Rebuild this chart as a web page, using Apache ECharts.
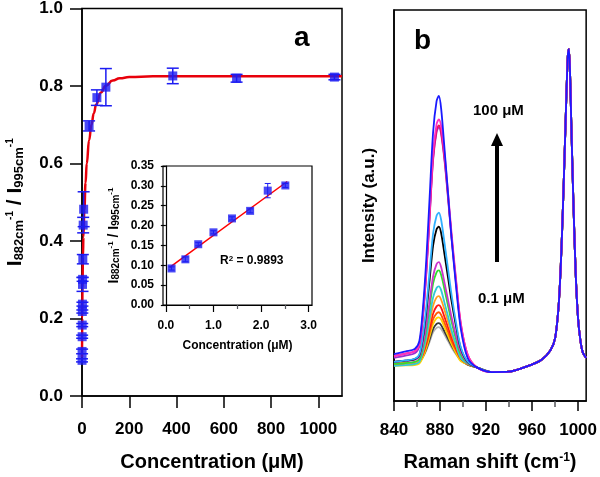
<!DOCTYPE html>
<html><head><meta charset="utf-8">
<script src="https://cdn.jsdelivr.net/npm/echarts@6/dist/echarts.min.js"></script>
<style>html,body{margin:0;padding:0;background:#fff}#c{width:600px;height:477px}</style>
</head><body><div id="c"></div>
<script>
const FONT = 'Liberation Sans, Arial, sans-serif';
const BLUE = '#1c1cf2';
const RED = '#e8000b';

// ---- Panel a : inset (low concentration, µM) ----
const insetX = [0.12, 0.41, 0.68, 1.0, 1.39, 1.77, 2.14, 2.51];
const insetY = [0.092, 0.115, 0.153, 0.183, 0.218, 0.237, 0.288, 0.301];
const insetErr = [0.004, 0.006, 0.004, 0.004, 0.004, 0.005, 0.018, 0.005];
const insetFitX = [0.08, 2.55];
const insetFitY = [0.095, 0.311];
const insetXTicks = [0, 1, 2, 3];
const insetXMinor = [0.5, 1.5, 2.5];
const insetYTicks = [0, 0.05, 0.10, 0.15, 0.20, 0.25, 0.30, 0.35];

// ---- Panel a : main ----
const extraX = [3.5, 5, 7, 30, 63, 101, 384, 654, 1068];
const extraY = [0.353, 0.441, 0.482, 0.697, 0.770, 0.797, 0.826, 0.820, 0.823];
const extraErr = [0.012, 0.02, 0.045, 0.013, 0.02, 0.048, 0.02, 0.01, 0.007];
const mainX = insetX.concat(extraX);
const mainY = insetY.concat(extraY);
const mainErr = insetErr.concat(extraErr);
const fitX = [0, 1, 2, 4, 6, 10, 15, 20, 30, 40, 50, 60, 80, 100, 130, 160, 200, 300, 600, 1100];
const fitY = [0.10, 0.20, 0.28, 0.36, 0.41, 0.48, 0.55, 0.60, 0.66, 0.70, 0.73, 0.752, 0.783, 0.80, 0.814, 0.82, 0.823, 0.825, 0.825, 0.825];
const mainXTicks = [0, 200, 400, 600, 800, 1000];
const mainYTicks = [0, 0.2, 0.4, 0.6, 0.8, 1.0];

// ---- Panel b : Raman spectra ----
const ramanHeadX = [840, 850, 858, 862, 865, 868, 871, 874, 877, 879, 881, 884, 887, 890, 894, 898, 904];
const ramanTailX = [912, 925, 940, 955, 968, 976, 980, 983, 985, 987, 989, 991, 992, 993, 994, 996, 998, 1000, 1002, 1004, 1007];
const ramanTailY = [0.086, 0.074, 0.075, 0.088, 0.105, 0.13, 0.16, 0.24, 0.35, 0.51, 0.70, 0.88, 0.90, 0.84, 0.72, 0.50, 0.32, 0.21, 0.155, 0.125, 0.11];
const specGray    = [.095, .096, .097, .100, .111, .129, .152, .176, .187, .189, .184, .169, .153, .137, .119, .104, .093];
const specDark    = [.095, .096, .097, .100, .113, .132, .158, .184, .197, .199, .194, .177, .159, .142, .122, .105, .093];
const specYellow  = [.090, .091, .092, .096, .111, .135, .166, .197, .212, .214, .208, .188, .167, .146, .122, .102, .094];
const specOrRed   = [.095, .096, .098, .102, .117, .143, .176, .209, .224, .227, .220, .199, .177, .154, .129, .108, .094];
const specRed     = [.095, .097, .098, .103, .121, .149, .187, .224, .242, .245, .238, .214, .188, .163, .134, .110, .095];
const specOrange  = [.095, .097, .098, .104, .124, .157, .201, .244, .265, .268, .259, .232, .202, .173, .140, .112, .095];
const specTeal    = [.090, .092, .094, .100, .125, .163, .214, .265, .289, .293, .283, .250, .216, .181, .143, .110, .096];
const specGreen   = [.095, .097, .100, .107, .136, .181, .241, .301, .329, .334, .322, .284, .243, .203, .157, .119, .097];
const specMagenta = [.100, .103, .105, .113, .143, .192, .256, .319, .350, .355, .342, .301, .258, .215, .166, .126, .098];
const specBlack   = [.100, .103, .107, .117, .159, .225, .311, .398, .439, .446, .429, .373, .315, .256, .190, .135, .100];
const specSky     = [.100, .104, .108, .119, .165, .238, .333, .429, .474, .482, .463, .402, .337, .272, .199, .138, .101];
const specPurple  = [.110, .116, .122, .140, .210, .322, .470, .617, .688, .700, .682, .612, .517, .417, .299, .193, .114];
const specCrimson = [.115, .121, .127, .145, .215, .327, .475, .622, .693, .705, .687, .617, .522, .422, .304, .198, .119];
const specPink    = [.115, .121, .127, .145, .218, .333, .484, .635, .708, .720, .702, .629, .532, .430, .309, .200, .119];
const specBlue    = [.120, .127, .133, .153, .232, .358, .523, .688, .767, .780, .747, .641, .529, .417, .292, .186, .110];
const spectra = [specGray, specDark, specYellow, specOrRed, specRed, specOrange, specTeal, specGreen,
                 specMagenta, specBlack, specSky, specPurple, specCrimson, specPink, specBlue];
const specColors = ['#b4b4b4', '#3a3a3a', '#ffd400', '#ff5a00', '#ff1414', '#ffa020', '#30c8d8', '#30dd30',
                    '#cc33cc', '#000000', '#30b0ff', '#9a30d0', '#ee1060', '#ff30c0', '#1a1aff'];
const ramanXTicks = [840, 880, 920, 960, 1000];
const ramanXMinor = [860, 900, 940, 980];

const chart = echarts.init(document.getElementById('c'), null, {renderer: 'canvas'});

function errRender(capHalf, lw) {
  return function (params, api) {
    const x = api.value(0), y = api.value(1), e = api.value(2);
    const t = api.coord([x, y + e]), b = api.coord([x, y - e]);
    const st = {stroke: BLUE, lineWidth: lw};
    return {type: 'group', children: [
      {type: 'line', shape: {x1: t[0], y1: t[1], x2: b[0], y2: b[1]}, style: st},
      {type: 'line', shape: {x1: t[0] - capHalf, y1: t[1], x2: t[0] + capHalf, y2: t[1]}, style: st},
      {type: 'line', shape: {x1: b[0] - capHalf, y1: b[1], x2: b[0] + capHalf, y2: b[1]}, style: st}
    ]};
  };
}

const lbl = (size) => ({fontFamily: FONT, fontWeight: 'bold', fontSize: size, color: '#000'});
const axLine = {lineStyle: {color: '#000', width: 1.5}};

const bigRich = {
  a: {fontFamily: FONT, fontWeight: 'bold', fontSize: 21, color: '#000'},
  b: {fontFamily: FONT, fontWeight: 'bold', fontSize: 13, color: '#000', verticalAlign: 'bottom'},
  c: {fontFamily: FONT, fontWeight: 'bold', fontSize: 10, color: '#000', verticalAlign: 'top'}
};
const smallRich = {
  a: {fontFamily: FONT, fontWeight: 'bold', fontSize: 14, color: '#000'},
  b: {fontFamily: FONT, fontWeight: 'bold', fontSize: 10, color: '#000', verticalAlign: 'bottom'},
  c: {fontFamily: FONT, fontWeight: 'bold', fontSize: 8, color: '#000', verticalAlign: 'top'}
};
const ratioName = '{a|I}{b|882cm}{c|-1}{a| / I}{b|995cm}{c|-1}';

const series = [];
// main fit curve
series.push({type: 'line', xAxisIndex: 0, yAxisIndex: 0, data: fitX.map((x, i) => [x, fitY[i]]),
  smooth: true, smoothMonotone: 'x', showSymbol: false, lineStyle: {color: RED, width: 2.5}, z: 3});
series.push({type: 'custom', xAxisIndex: 0, yAxisIndex: 0, renderItem: errRender(6, 1.5),
  data: mainX.map((x, i) => [x, mainY[i], mainErr[i]]), encode: {x: 0, y: 1}, z: 4});
series.push({type: 'scatter', xAxisIndex: 0, yAxisIndex: 0, symbol: 'rect', symbolSize: 9,
  itemStyle: {color: BLUE}, data: mainX.map((x, i) => [x, mainY[i]]), z: 5});
// inset
series.push({type: 'line', xAxisIndex: 1, yAxisIndex: 1, data: insetFitX.map((x, i) => [x, insetFitY[i]]),
  showSymbol: false, lineStyle: {color: '#ff0000', width: 1.5}, z: 3});
series.push({type: 'custom', xAxisIndex: 1, yAxisIndex: 1, renderItem: errRender(3, 1),
  data: insetX.map((x, i) => [x, insetY[i], insetErr[i]]), encode: {x: 0, y: 1}, z: 4});
series.push({type: 'scatter', xAxisIndex: 1, yAxisIndex: 1, symbol: 'rect', symbolSize: 8,
  itemStyle: {color: BLUE}, data: insetX.map((x, i) => [x, insetY[i]]), z: 5});
// spectra
spectra.forEach((s, k) => {
  const xs = ramanHeadX.concat(ramanTailX);
  const ys = s.concat(ramanTailY);
  series.push({type: 'line', xAxisIndex: 3, yAxisIndex: 2, data: xs.map((x, i) => [x, ys[i]]),
    smooth: 0.3, showSymbol: false, lineStyle: {color: specColors[k], width: 1.8}, z: 3});
});

chart.setOption({
  animation: false,
  backgroundColor: '#fff',
  grid: [
    {left: 82, top: 7, width: 260, height: 390, show: true, borderColor: '#000', borderWidth: 1.5, backgroundColor: 'transparent'},
    {left: 163, top: 166, width: 149, height: 139, show: true, borderColor: '#000', borderWidth: 1.2, backgroundColor: '#fff'},
    {left: 394, top: 10, width: 195, height: 392, show: true, borderColor: '#000', borderWidth: 1.5, backgroundColor: 'transparent'}
  ],
  xAxis: [
    {gridIndex: 0, type: 'value', position: 'bottom', min: 0, max: 1100, axisLine: axLine, splitLine: {show: false},
     axisTick: {customValues: mainXTicks, length: 12, lineStyle: {width: 1.5}},
     axisLabel: {customValues: mainXTicks, margin: 25, formatter: v => String(v), ...lbl(17)},
     name: 'Concentration (μM)', nameLocation: 'middle', nameGap: 56, nameTextStyle: lbl(20)},
    {gridIndex: 1, type: 'value', position: 'bottom', min: -0.06, max: 3.07, axisLine: {lineStyle: {color: '#000', width: 1.2}}, splitLine: {show: false},
     axisTick: {customValues: insetXTicks, length: 7, lineStyle: {width: 1.2}},
     axisLabel: {customValues: insetXTicks, margin: 15, formatter: v => v.toFixed(1), ...lbl(12)},
     name: 'Concentration (μM)', nameLocation: 'middle', nameGap: 35, nameTextStyle: lbl(12)},
    {gridIndex: 1, type: 'value', position: 'bottom', min: -0.06, max: 3.07, axisLine: {show: false}, splitLine: {show: false},
     axisTick: {customValues: insetXMinor, length: 4, lineStyle: {width: 1.2}}, axisLabel: {show: false}},
    {gridIndex: 2, type: 'value', position: 'bottom', min: 840, max: 1007, axisLine: axLine, splitLine: {show: false},
     axisTick: {customValues: ramanXTicks, length: 10, lineStyle: {width: 1.5}},
     axisLabel: {customValues: ramanXTicks, margin: 21, formatter: v => String(v), ...lbl(17)},
     name: '{a|Raman shift (cm}{c|-1}{a|)}', nameLocation: 'middle', nameGap: 51,
     nameTextStyle: {rich: {a: lbl(20), c: {...lbl(12), verticalAlign: 'top'}}}},
    {gridIndex: 2, type: 'value', position: 'bottom', min: 840, max: 1007, axisLine: {show: false}, splitLine: {show: false},
     axisTick: {customValues: ramanXMinor, length: 6, lineStyle: {width: 1.5}}, axisLabel: {show: false}}
  ],
  yAxis: [
    {gridIndex: 0, type: 'value', min: 0, max: 1, axisLine: axLine, splitLine: {show: false},
     axisTick: {customValues: mainYTicks, length: 12, lineStyle: {width: 1.5}},
     axisLabel: {customValues: mainYTicks, margin: 19, formatter: v => v.toFixed(1), ...lbl(17)},
     name: ratioName, nameLocation: 'middle', nameRotate: 90, nameGap: 56, nameTextStyle: {rich: bigRich}},
    {gridIndex: 1, type: 'value', min: 0, max: 0.35, axisLine: {lineStyle: {color: '#000', width: 1.2}}, splitLine: {show: false},
     axisTick: {customValues: insetYTicks, length: 5, lineStyle: {width: 1.2}},
     axisLabel: {customValues: insetYTicks, margin: 9, formatter: v => v.toFixed(2), ...lbl(12)},
     name: ratioName, nameLocation: 'middle', nameRotate: 90, nameGap: 42, nameTextStyle: {rich: smallRich}},
    {gridIndex: 2, type: 'value', min: 0, max: 1, axisLine: axLine, splitLine: {show: false},
     axisTick: {show: false}, axisLabel: {show: false},
     name: 'Intensity (a.u.)', nameLocation: 'middle', nameRotate: 90, nameGap: 16, nameTextStyle: lbl(17)}
  ],
  series: series,
  graphic: [
    {type: 'text', left: 294, top: 24, style: {text: 'a', font: 'bold 28px ' + FONT, fill: '#000'}},
    {type: 'text', left: 414, top: 27, style: {text: 'b', font: 'bold 28px ' + FONT, fill: '#000'}},
    {type: 'text', left: 473, top: 103, style: {text: '100 μM', font: 'bold 15px ' + FONT, fill: '#000'}},
    {type: 'text', left: 478, top: 291, style: {text: '0.1 μM', font: 'bold 15px ' + FONT, fill: '#000'}},
    {type: 'line', shape: {x1: 497, y1: 262, x2: 497, y2: 144}, style: {stroke: '#000', lineWidth: 4}},
    {type: 'polygon', shape: {points: [[491, 146], [503, 146], [497, 133]]}, style: {fill: '#000'}},
    {type: 'text', left: 220, top: 255, z: 100, style: {
      text: '{a|R}{c|2}{a| = 0.9893}',
      rich: {a: {font: 'bold 12px ' + FONT, fill: '#000'}, c: {font: 'bold 8px ' + FONT, fill: '#000', verticalAlign: 'top'}}}}
  ]
});
</script>
</body></html>
